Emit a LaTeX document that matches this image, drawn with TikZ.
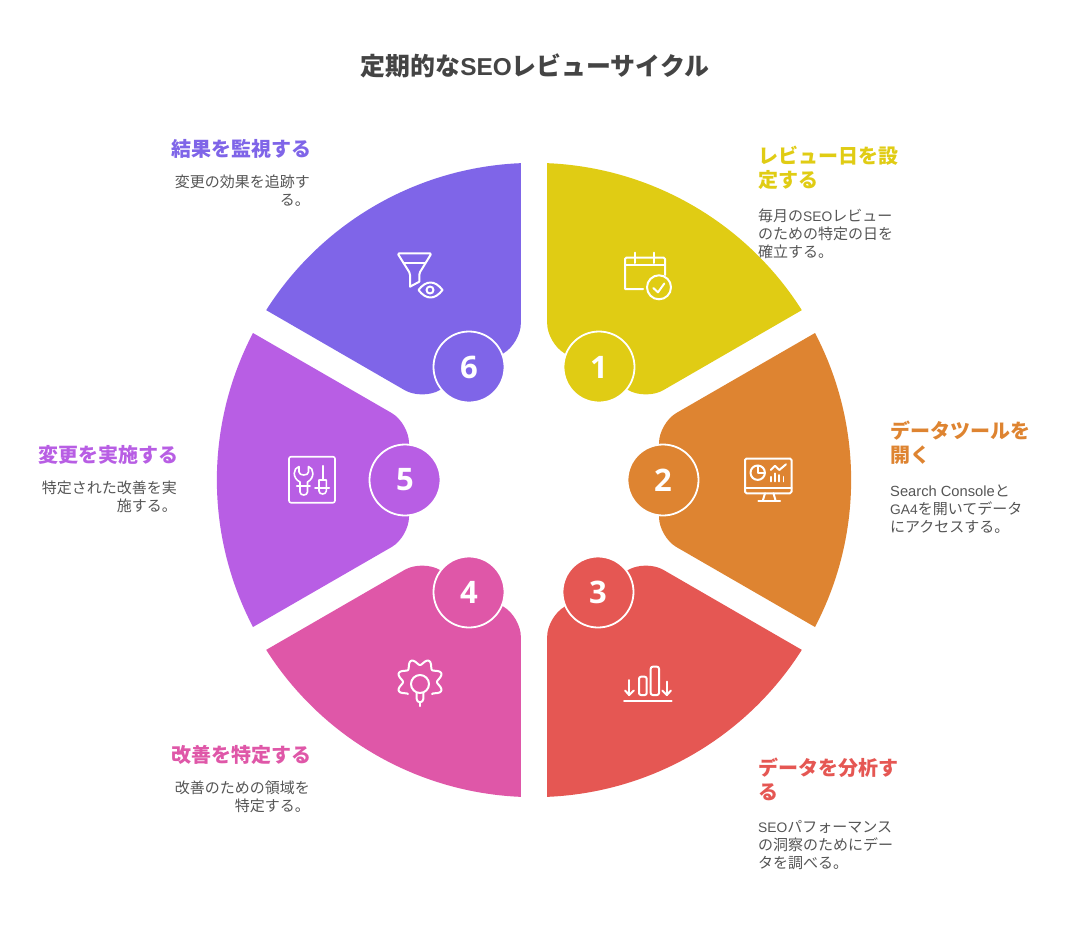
\documentclass[tikz,border=0pt]{standalone}
\usepackage{fontspec}
\usepackage{xcolor}
\setmainfont{Noto Sans CJK JP}
\newfontfamily\latfont[Scale=0.98]{Liberation Sans}
\newfontfamily\capfont[Scale=0.92]{Liberation Sans}
\newfontfamily\numfont{Open Sans}
\definecolor{segA}{HTML}{E0CC14}
\definecolor{segB}{HTML}{DE8431}
\definecolor{segC}{HTML}{E55753}
\definecolor{segD}{HTML}{DF57A8}
\definecolor{segE}{HTML}{B85EE4}
\definecolor{segF}{HTML}{7F65E8}
\definecolor{inktitle}{HTML}{444444}
\definecolor{inkbody}{HTML}{555555}
\tikzstyle{titletext} = [inner sep=0pt, text=inktitle, font=\fontsize{24.9}{30}\selectfont\bfseries]
\tikzstyle{headleft} = [anchor=west, inner sep=0pt, align=left, font=\fontsize{20}{24}\selectfont\bfseries]
\tikzstyle{headright} = [anchor=east, inner sep=0pt, align=right, font=\fontsize{20}{24}\selectfont\bfseries]
\tikzstyle{bodyleft} = [anchor=west, inner sep=0pt, align=left, text=inkbody, font=\fontsize{15}{18}\selectfont]
\tikzstyle{bodyright} = [anchor=east, inner sep=0pt, align=right, text=inkbody, font=\fontsize{15}{18}\selectfont]
\tikzstyle{numdot} = [circle, minimum size=71pt, inner sep=0pt, draw=white, line width=1.8pt, text=white, font=\numfont\fontsize{31}{31}\selectfont\bfseries]
\tikzstyle{icon} = [draw=white, line width=2pt, line cap=round, line join=round]
\tikzstyle{thinicon} = [draw=white, line width=1.6pt, line cap=round, line join=round]
\newcommand{\segpath}{(815,333) [rounded corners=20pt] -- (659,423) -- (659,537) [sharp corners] -- (815,627) arc[start angle=27.62, end angle=-27.62, radius=317.1] -- cycle}

\begin{document}
\begin{tikzpicture}[x=1pt, y=-1pt]
  \useasboundingbox (0,0) rectangle (1068,924);

  \fill [segA, rotate around={60:(534,480)}] \segpath;
  \fill [segB] \segpath;
  \fill [segC, rotate around={-60:(534,480)}] \segpath;
  \fill [segD, rotate around={-120:(534,480)}] \segpath;
  \fill [segE, rotate around={180:(534,480)}] \segpath;
  \fill [segF, rotate around={120:(534,480)}] \segpath;

  \node (num1) [numdot, fill=segA] at (599,367) {1};
  \node (num2) [numdot, fill=segB] at (663,480) {2};
  \node (num3) [numdot, fill=segC] at (598,592) {3};
  \node (num4) [numdot, fill=segD] at (469,592) {4};
  \node (num5) [numdot, fill=segE] at (405,480) {5};
  \node (num6) [numdot, fill=segF] at (469,367) {6};

  \node (title) [titletext] at (535,66) {定期的な{\latfont SEO}レビューサイクル};

  \node (head1) [headleft, text=segA] at (758,168) {レビュー日を設\\定する};
  \node (text1) [bodyleft] at (758,234) {毎月の{\capfont SEO}レビュー\\のための特定の日を\\確立する。};
  \node (head2) [headleft, text=segB] at (890,443) {データツールを\\開く};
  \node (text2) [bodyleft] at (890,509) {{\latfont Search Console}と\\{\capfont GA4}を開いてデータ\\にアクセスする。};
  \node (head3) [headleft, text=segC] at (758,779) {データを分析す\\る};
  \node (text3) [bodyleft] at (758,845) {{\capfont SEO}パフォーマンス\\の洞察のためにデー\\タを調べる。};
  \node (head4) [headright, text=segD] at (311.5,755) {改善を特定する};
  \node (text4) [bodyright] at (310,797) {改善のための領域を\\特定する。};
  \node (head5) [headright, text=segE] at (178.5,455) {変更を実施する};
  \node (text5) [bodyright] at (177,497) {特定された改善を実\\施する。};
  \node (head6) [headright, text=segF] at (311.5,149) {結果を監視する};
  \node (text6) [bodyright] at (310,191) {変更の効果を追跡す\\る。};

  % calendar
  \draw [icon] (643,289) -- (625,289) [rounded corners=1.5pt] -- (625,257.5) -- (665,257.5) [sharp corners] -- (665,275);
  \draw [icon] (625,265) -- (665,265);
  \draw [icon] (635,252.5) -- (635,263);
  \draw [icon] (654,252.5) -- (654,263);
  \draw [icon] (659,287.3) circle (12);
  \draw [icon] (653.3,288) -- (658,292.3) -- (664.3,283.5);

  % monitor
  \draw [icon, rounded corners=1.5pt] (745,458.5) rectangle (791.5,493.3);
  \draw [icon] (745,487.7) -- (791.5,487.7);
  \draw [icon] (765,493.3) -- (762.7,501);
  \draw [icon] (773.5,493.3) -- (775.7,501);
  \draw [icon] (758.3,501) -- (780,501);
  \draw [icon] (757.7,472.7) circle (7.2);
  \draw [icon] (757.7,465.5) -- (757.7,472.7) -- (764.9,472.7);
  \draw [icon] (770.7,470) -- (775,465.7) -- (779.3,470) -- (786,464.3);
  \draw [icon, line width=1.6pt] (770.7,481.5) -- (770.7,476.7);
  \draw [icon, line width=1.6pt] (775,481.5) -- (775,473.3);
  \draw [icon, line width=1.6pt] (779.2,481.5) -- (779.2,475);
  \draw [icon, line width=1.6pt] (783.4,481.5) -- (783.4,476.7);

  % bars
  \draw [icon] (624,701) -- (671.7,701);
  \draw [icon] (629.3,680) -- (629.3,695);
  \draw [icon] (625,690.5) -- (629.3,695) -- (633.8,690.5);
  \draw [icon] (666.7,681.7) -- (666.7,695);
  \draw [icon] (662.3,690.5) -- (666.7,695) -- (671,690.5);
  \draw [icon, rounded corners=2pt] (639,676.7) rectangle (646.7,695);
  \draw [icon, rounded corners=2pt] (650.7,666.7) rectangle (659,695);

  % gear and bulb
  \draw [icon] plot[domain=-225:45, samples=120, smooth] ({420+(20-3*cos(8*\x))*cos(\x)}, {682+(20-3*cos(8*\x))*sin(\x)});
  \draw [icon] (420,684) circle (9);
  \draw [icon] (416.7,693) -- (416.7,699) arc[start angle=180, end angle=0, radius=3.3] -- (423.3,693);
  \draw [icon] (420,702) -- (420,706);

  % tools
  \draw [thinicon, rounded corners=2pt] (289,456.7) rectangle (335,502.7);
  \draw [thinicon] (299,466.5) .. controls (293,468) and (292,478) .. (300,482) -- (300,492) .. controls (300,496) and (307.5,496) .. (307.5,492) -- (307.5,482) .. controls (315,478) and (314,468) .. (308.5,466.5) -- (308.5,472) .. controls (308.5,476) and (299,476) .. (299,472) -- cycle;
  \draw [thinicon] (296.7,485.7) -- (310,485.7);
  \draw [thinicon] (322.7,465.7) -- (322.7,480);
  \draw [thinicon] (319,480) -- (326.3,480) -- (326.3,491) .. controls (326.3,495) and (319,495) .. (319,491) -- cycle;
  \draw [thinicon] (315,487.7) -- (329.3,487.7);

  % funnel and eye
  \draw [icon, rounded corners=1.5pt] (410,286.7) -- (410,273.3) -- (397.5,253.3) -- (431.5,253.3) -- (419.3,273.3) [sharp corners] -- (419.3,281.7) -- (410,286.7);
  \draw [icon] (403.5,263.3) -- (425,263.3);
  \draw [icon] (418.5,290) .. controls (426,280) and (435,280) .. (442.5,290) .. controls (435,300) and (426,300) .. (418.5,290) -- cycle;
  \draw [icon] (430,290) circle (3.5);
\end{tikzpicture}
\end{document}
